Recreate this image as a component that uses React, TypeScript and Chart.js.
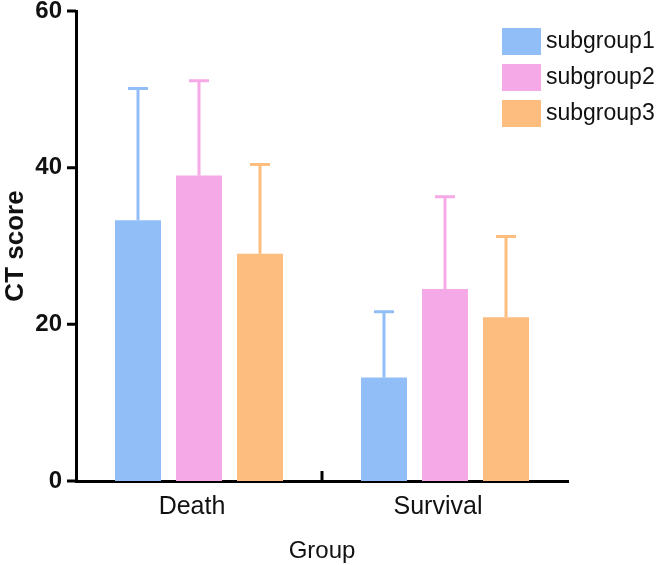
import React, { useEffect, useRef } from "react";
import { Chart, registerables } from "chart.js";

Chart.register(...registerables);

const categories = ["Death", "Survival"];
const seriesNames = ["subgroup1", "subgroup2", "subgroup3"];
const subgroup1Mean = [33.3, 13.2];
const subgroup1Upper = [50.1, 21.6];
const subgroup2Mean = [39.0, 24.5];
const subgroup2Upper = [51.1, 36.3];
const subgroup3Mean = [29.0, 20.9];
const subgroup3Upper = [40.4, 31.2];
const yTicks = [0, 20, 40, 60];
const colors = ["#91BEF7", "#F5A9E6", "#FDBD7F"];

const FONT = "'Liberation Sans', Arial, Helvetica, sans-serif";

const errorBarPlugin = {
  id: "errorBars",
  afterDatasetsDraw(chart: any) {
    const ctx = chart.ctx;
    const y = chart.scales.y;
    chart.data.datasets.forEach((ds: any, i: number) => {
      const meta = chart.getDatasetMeta(i);
      meta.data.forEach((bar: any, j: number) => {
        const top = y.getPixelForValue(ds.errorUpper[j]);
        ctx.save();
        ctx.strokeStyle = ds.backgroundColor;
        ctx.lineWidth = 3;
        ctx.beginPath();
        ctx.moveTo(bar.x, bar.y);
        ctx.lineTo(bar.x, top);
        ctx.moveTo(bar.x - 10, top);
        ctx.lineTo(bar.x + 10, top);
        ctx.stroke();
        ctx.restore();
      });
    });
  },
};

const axisTickPlugin = {
  id: "axisTicks",
  afterDraw(chart: any) {
    const ctx = chart.ctx;
    const x = chart.scales.x;
    const y = chart.scales.y;
    const { left, bottom } = chart.chartArea;
    ctx.save();
    ctx.strokeStyle = "#000";
    ctx.lineWidth = 3;
    ctx.beginPath();
    for (let i = 0; i < categories.length - 1; i++) {
      const px = Math.round((x.getPixelForValue(i) + x.getPixelForValue(i + 1)) / 2);
      ctx.moveTo(px, bottom);
      ctx.lineTo(px, bottom - 10);
    }
    yTicks.forEach((v) => {
      const py = y.getPixelForValue(v);
      ctx.moveTo(left, py);
      ctx.lineTo(left - 9, py);
    });
    ctx.stroke();
    ctx.restore();
  },
};

const legendPlugin = {
  id: "customLegend",
  afterDraw(chart: any) {
    const ctx = chart.ctx;
    const left = chart.chartArea.right - 66;
    const top = chart.chartArea.top + 17;
    ctx.save();
    ctx.font = `23px ${FONT}`;
    ctx.textBaseline = "middle";
    ctx.textAlign = "left";
    chart.data.datasets.forEach((ds: any, i: number) => {
      const y = top + i * 36;
      ctx.fillStyle = ds.backgroundColor;
      ctx.fillRect(left, y, 39, 27);
      ctx.fillStyle = "#111";
      ctx.fillText(ds.label, left + 44, y + 14);
    });
    ctx.restore();
  },
};

export default function App() {
  const ref = useRef<HTMLCanvasElement>(null);

  useEffect(() => {
    document.body.style.margin = "0";
    const means = [subgroup1Mean, subgroup2Mean, subgroup3Mean];
    const uppers = [subgroup1Upper, subgroup2Upper, subgroup3Upper];
    const chart = new Chart(ref.current!, {
      type: "bar",
      data: {
        labels: categories,
        datasets: seriesNames.map((name, i) => ({
          label: name,
          data: means[i],
          errorUpper: uppers[i],
          backgroundColor: colors[i],
          borderWidth: 0,
          categoryPercentage: 0.744,
          barPercentage: 0.754,
        })) as any,
      },
      options: {
        responsive: false,
        animation: false,
        devicePixelRatio: 1,
        layout: { padding: { top: 11, right: 89, left: 0, bottom: 0 } },
        plugins: {
          legend: { display: false },
          tooltip: { enabled: false },
        },
        scales: {
          x: {
            grid: { display: false, drawTicks: false },
            border: { display: true, color: "#000", width: 3 },
            ticks: {
              color: "#111",
              font: { family: FONT, size: 25 },
              padding: 11,
              labelOffset: -7,
            },
            title: {
              display: true,
              text: "Group",
              color: "#111",
              font: { family: FONT, size: 24 },
              padding: { top: 0, bottom: 0 },
            },
            afterFit: (s: any) => {
              s.height = 85;
              s.paddingLeft = 0;
              s.paddingRight = 0;
            },
          },
          y: {
            min: 0,
            max: 60,
            afterBuildTicks: (s: any) => {
              s.ticks = yTicks.map((v) => ({ value: v }));
            },
            grid: {
              display: false,
              drawTicks: false,
            },
            border: { display: true, color: "#000", width: 3 },
            ticks: {
              color: "#111",
              font: { family: FONT, size: 24, weight: "bold" },
              padding: 14,
            },
            title: {
              display: true,
              text: "CT score",
              color: "#111",
              font: { family: FONT, size: 26, weight: "bold" },
              padding: { top: 0, bottom: 0 },
            },
            afterFit: (s: any) => {
              s.width = 76;
              s.paddingTop = 0;
              s.paddingBottom = 0;
            },
          },
        },
      },
      plugins: [errorBarPlugin, axisTickPlugin, legendPlugin],
    });
    return () => chart.destroy();
  }, []);

  return <canvas ref={ref} width={657} height={566} style={{ display: "block" }} />;
}
